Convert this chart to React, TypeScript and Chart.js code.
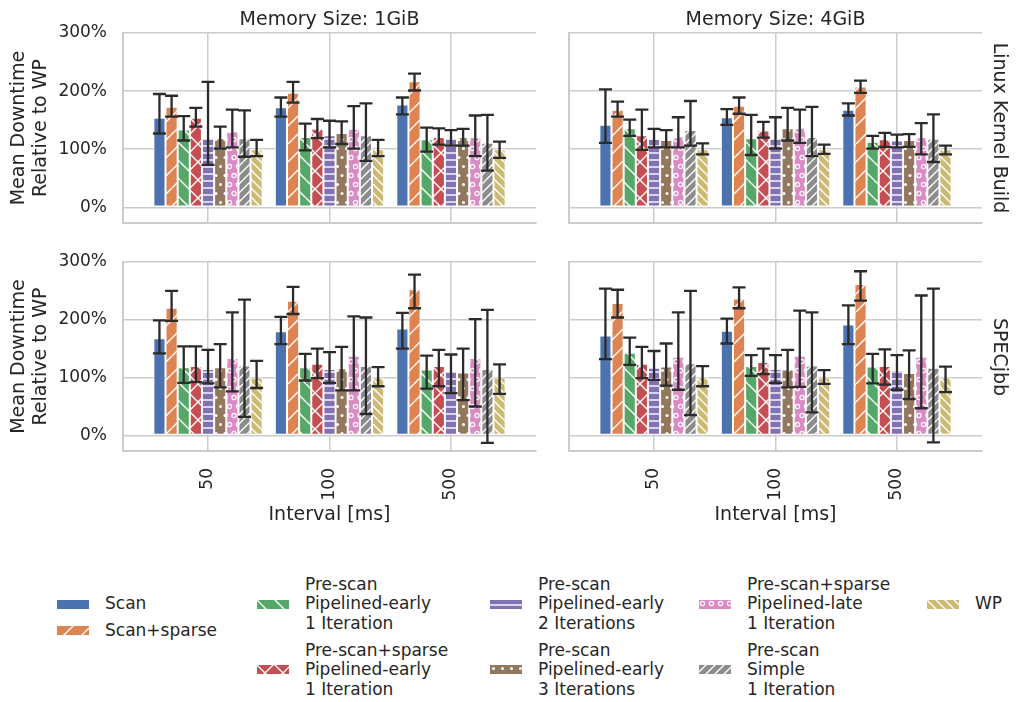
import React, { useEffect, useRef } from 'react';
import { Chart, registerables } from 'chart.js';

Chart.register(...registerables);
Chart.defaults.font.family = "'DejaVu Sans', sans-serif";

// ---------------- data ----------------
const categories = ['50', '100', '500'];
const yTicks = [0, 100, 200, 300];

const seriesLabels = [
  ['Scan'],
  ['Scan+sparse'],
  ['Pre-scan', 'Pipelined-early', '1 Iteration'],
  ['Pre-scan+sparse', 'Pipelined-early', '1 Iteration'],
  ['Pre-scan', 'Pipelined-early', '2 Iterations'],
  ['Pre-scan', 'Pipelined-early', '3 Iterations'],
  ['Pre-scan+sparse', 'Pipelined-late', '1 Iteration'],
  ['Pre-scan', 'Simple', '1 Iteration'],
  ['WP'],
];

// Linux Kernel Build, 1GiB  (rows = series, cols = interval)
const kernel1Mean = [
  [154, 172, 177], [173, 197, 217], [134, 121, 117], [154, 135, 121], [119, 124, 119],
  [119, 128, 121], [131, 135, 121], [119, 124, 111], [100, 100, 100],
];
const kernel1Low = [
  [127, 156, 160], [156, 180, 201], [115, 98, 96], [139, 119, 108], [73, 103, 106],
  [101, 109, 106], [103, 101, 88], [87, 80, 63], [88, 88, 85],
];
const kernel1High = [
  [195, 189, 189], [192, 216, 230], [157, 144, 137], [171, 152, 136], [216, 149, 133],
  [139, 148, 135], [168, 174, 158], [167, 179, 159], [116, 116, 113],
];

// Linux Kernel Build, 4GiB
const kernel4Mean = [
  [142, 155, 168], [168, 175, 208], [136, 119, 113], [124, 132, 117], [118, 119, 115],
  [116, 136, 116], [122, 137, 121], [133, 121, 118], [100, 100, 100],
];
const kernel4Low = [
  [111, 142, 158], [156, 161, 197], [123, 90, 101], [99, 120, 104], [103, 101, 103],
  [103, 115, 104], [103, 111, 91], [106, 88, 78], [91, 92, 91],
];
const kernel4High = [
  [203, 169, 179], [182, 189, 218], [151, 159, 123], [168, 147, 128], [135, 155, 125],
  [133, 171, 126], [155, 168, 145], [183, 173, 160], [110, 108, 106],
];

// SPECjbb, 1GiB
const spec1Mean = [
  [168, 180, 185], [221, 233, 253], [118, 118, 114], [120, 124, 120], [115, 115, 111],
  [118, 116, 109], [134, 138, 134], [121, 120, 115], [100, 100, 100],
];
const spec1Low = [
  [142, 158, 150], [198, 210, 220], [91, 95, 81], [92, 99, 85], [90, 91, 73],
  [83, 78, 61], [76, 78, 50], [32, 37, -13], [82, 85, 72],
];
const spec1High = [
  [199, 205, 212], [250, 257, 278], [154, 141, 138], [154, 150, 148], [148, 144, 140],
  [158, 153, 150], [213, 206, 201], [235, 204, 217], [129, 118, 123],
];

// SPECjbb, 4GiB
const spec4Mean = [
  [173, 181, 192], [229, 237, 262], [143, 120, 119], [124, 127, 120], [117, 115, 113],
  [119, 114, 108], [136, 138, 136], [125, 121, 117], [100, 100, 100],
];
const spec4Low = [
  [132, 159, 158], [204, 220, 233], [122, 103, 90], [99, 106, 88], [96, 91, 79],
  [86, 83, 63], [79, 84, 47], [35, 40, -12], [85, 89, 75],
];
const spec4High = [
  [254, 202, 225], [252, 256, 284], [169, 139, 141], [153, 150, 149], [146, 139, 139],
  [159, 148, 147], [213, 216, 242], [250, 213, 254], [120, 113, 119],
];

// ---------------- styles ----------------
const seriesColors = ['#4C72B0', '#DD8452', '#55A868', '#C44E52', '#8172B3', '#937860', '#DA8BC3', '#8C8C8C', '#CCB974'];
const seriesHatches = ['', '/', '\\', 'x', '-', '.', 'o', '//', '\\\\'];
const TEXT = '#262626';
const GRID = '#cccccc';

function makeTile(color: string, hatch: string): HTMLCanvasElement {
  const S = hatch === '-' ? 7 : 18;
  const c = document.createElement('canvas');
  c.width = S;
  c.height = S;
  const g = c.getContext('2d')!;
  g.fillStyle = color;
  g.fillRect(0, 0, S, S);
  g.strokeStyle = '#ffffff';
  g.fillStyle = '#ffffff';
  g.lineWidth = 1.4;
  const diag = (n: number, up: boolean) => {
    const step = S / n;
    g.beginPath();
    for (let k = -n; k <= 2 * n; k++) {
      const o = k * step;
      if (up) {
        g.moveTo(o - S, S);
        g.lineTo(o, 0);
      } else {
        g.moveTo(o - S, 0);
        g.lineTo(o, S);
      }
    }
    g.stroke();
  };
  const lattice = (fn: (x: number, y: number) => void) => {
    const pts: number[][] = [];
    for (const x of [4.5, 13.5]) pts.push([x, 4.5]);
    for (const x of [0, 9, 18]) pts.push([x, 13.5]);
    pts.forEach(([x, y]) => fn(x, y));
  };
  if (hatch === '/') diag(1, true);
  else if (hatch === '//') diag(2, true);
  else if (hatch === '\\') diag(1, false);
  else if (hatch === '\\\\') diag(2, false);
  else if (hatch === 'x') {
    diag(1, true);
    diag(1, false);
  } else if (hatch === '-') {
    g.beginPath();
    g.moveTo(0, S - 1);
    g.lineTo(S, S - 1);
    g.stroke();
  } else if (hatch === '.') {
    lattice((x, y) => {
      g.beginPath();
      g.arc(x, y, 1.5, 0, Math.PI * 2);
      g.fill();
    });
  } else if (hatch === 'o') {
    g.lineWidth = 1.2;
    lattice((x, y) => {
      g.beginPath();
      g.arc(x, y, 2.1, 0, Math.PI * 2);
      g.stroke();
    });
  }
  return c;
}

function makeFill(ctx: CanvasRenderingContext2D, i: number): any {
  if (!seriesHatches[i]) return seriesColors[i];
  return ctx.createPattern(makeTile(seriesColors[i], seriesHatches[i]), 'repeat');
}

const errorBarPlugin = {
  id: 'errorBars',
  afterDatasetsDraw(chart: any) {
    const ctx = chart.ctx;
    const ys = chart.scales.y;
    ctx.save();
    ctx.strokeStyle = '#2b2b2b';
    ctx.lineWidth = 2.3;
    chart.data.datasets.forEach((ds: any, i: number) => {
      const meta = chart.getDatasetMeta(i);
      meta.data.forEach((el: any, j: number) => {
        const x = el.x;
        const y1 = ys.getPixelForValue(ds.errLow[j]);
        const y2 = ys.getPixelForValue(ds.errHigh[j]);
        const cap = 6.5;
        ctx.beginPath();
        ctx.moveTo(x, y1);
        ctx.lineTo(x, y2);
        ctx.moveTo(x - cap, y1);
        ctx.lineTo(x + cap, y1);
        ctx.moveTo(x - cap, y2);
        ctx.lineTo(x + cap, y2);
        ctx.stroke();
      });
    });
    ctx.restore();
  },
};

type PanelProps = {
  mean: number[][];
  low: number[][];
  high: number[][];
  left: number;
  top: number;
  width: number;
  height: number;
  pad: { top: number; right: number; bottom: number; left: number };
  yWidth: number;
  xHeight: number;
  showY: boolean;
  showX: boolean;
};

function Panel(p: PanelProps) {
  const ref = useRef<HTMLCanvasElement>(null);
  useEffect(() => {
    const canvas = ref.current!;
    const ctx = canvas.getContext('2d')!;
    const datasets = seriesLabels.map((lab, i) => ({
      label: lab.join(' '),
      data: categories.map((_, j) => ({ x: j, y: p.mean[i][j] })),
      errLow: p.low[i],
      errHigh: p.high[i],
      backgroundColor: makeFill(ctx, i),
      borderColor: '#ffffff',
      borderWidth: 1,
      borderSkipped: false,
      categoryPercentage: 0.9,
      barPercentage: 1,
    }));
    const chart = new Chart(canvas, {
      type: 'bar',
      data: { datasets } as any,
      plugins: [errorBarPlugin],
      options: {
        animation: false,
        responsive: false,
        maintainAspectRatio: false,
        layout: { padding: p.pad },
        plugins: { legend: { display: false }, tooltip: { enabled: false }, title: { display: false } },
        scales: {
          x: {
            type: 'linear',
            min: -0.7,
            max: 2.7,
            offset: false,
            afterBuildTicks: (s: any) => {
              s.ticks = categories.map((_, j) => ({ value: j }));
            },
            afterFit: (s: any) => {
              s.height = p.xHeight;
              s.paddingLeft = 0;
              s.paddingRight = 0;
              s.paddingTop = 0;
              s.paddingBottom = 0;
            },
            grid: { color: GRID, lineWidth: 1.5, drawTicks: false, offset: false },
            border: { color: GRID, width: 2 },
            ticks: {
              display: p.showX,
              autoSkip: false,
              minRotation: 90,
              maxRotation: 90,
              padding: 17,
              color: TEXT,
              font: { size: 17 },
              callback: (v: any) => categories[Math.round(Number(v))] ?? '',
            },
            title: {
              display: p.showX,
              text: 'Interval [ms]',
              color: TEXT,
              font: { size: 19, lineHeight: 1.2 },
              padding: { top: 0, bottom: 14 },
            },
          },
          y: {
            type: 'linear',
            min: -27,
            max: 300,
            afterBuildTicks: (s: any) => {
              s.ticks = yTicks.map((v) => ({ value: v }));
            },
            afterFit: (s: any) => {
              s.width = p.yWidth;
              s.paddingLeft = 0;
              s.paddingRight = 0;
              s.paddingTop = 0;
              s.paddingBottom = 0;
            },
            grid: { color: GRID, lineWidth: 1.5, drawTicks: false },
            border: { color: GRID, width: 2 },
            ticks: {
              display: p.showY,
              padding: 16,
              color: TEXT,
              font: { size: 17 },
              callback: (v: any) => `${v}%`,
            },
            title: {
              display: p.showY,
              text: ['Mean Downtime', 'Relative to WP'],
              color: TEXT,
              font: { size: 19, lineHeight: 1.15 },
              padding: { top: 8, bottom: 0 },
            },
          },
        },
      } as any,
    });
    return () => chart.destroy();
  }, []);
  return (
    <canvas
      ref={ref}
      width={p.width}
      height={p.height}
      style={{ position: 'absolute', left: p.left, top: p.top, width: p.width, height: p.height }}
    />
  );
}

function Swatch({ index }: { index: number }) {
  const ref = useRef<HTMLCanvasElement>(null);
  useEffect(() => {
    const c = ref.current!;
    const g = c.getContext('2d')!;
    g.clearRect(0, 0, c.width, c.height);
    g.fillStyle = makeFill(g, index);
    g.fillRect(0, 0, c.width, c.height);
    g.strokeStyle = '#ffffff';
    g.lineWidth = 1;
    g.strokeRect(0.5, 0.5, c.width - 1, c.height - 1);
  }, []);
  return <canvas ref={ref} width={34} height={11} style={{ display: 'block' }} />;
}

const legendColX = [56, 256, 489, 698, 926];
const legendTextOffset = 49;
const legendFirstCenter = 604;
const legendLineH = 19.5;
const legendGap = 7.3;

function Legend() {
  const items: any[] = [];
  const colNext: Record<number, number> = {};
  seriesLabels.forEach((lines, k) => {
    const col = Math.floor(k / 2);
    const h = lines.length * legendLineH;
    let center: number;
    if (colNext[col] === undefined) center = legendFirstCenter;
    else center = colNext[col] + legendGap + h / 2;
    colNext[col] = center + h / 2;
    const x = legendColX[col];
    items.push(
      <div key={`s${k}`} style={{ position: 'absolute', left: x, top: center - 5.5 }}>
        <Swatch index={k} />
      </div>,
      <div
        key={`t${k}`}
        style={{
          position: 'absolute',
          left: x + legendTextOffset,
          top: center - h / 2,
          fontSize: 17,
          lineHeight: `${legendLineH}px`,
          whiteSpace: 'nowrap',
          color: TEXT,
        }}
      >
        {lines.map((l, li) => (
          <div key={li}>{l}</div>
        ))}
      </div>
    );
  });
  return <>{items}</>;
}

const facetTitles = ['Memory Size: 1GiB', 'Memory Size: 4GiB'];
const rowTitles = ['Linux Kernel Build', 'SPECjbb'];

export default function App() {
  const leftPad = { top: 33, right: 14, bottom: 17, left: 0 };
  const rightPad = { top: 33, right: 40, bottom: 17, left: 19 };
  const leftPadB = { top: 22, right: 14, bottom: 0, left: 0 };
  const rightPadB = { top: 22, right: 40, bottom: 0, left: 19 };
  return (
    <div
      style={{
        position: 'absolute',
        left: 0,
        top: 0,
        width: 1022,
        height: 702,
        background: '#ffffff',
        fontFamily: "'DejaVu Sans', sans-serif",
        color: TEXT,
        overflow: 'hidden',
      }}
    >
      <Panel mean={kernel1Mean} low={kernel1Low} high={kernel1High} left={0} top={0} width={550} height={240}
        pad={leftPad} yWidth={123} xHeight={0} showY={true} showX={false} />
      <Panel mean={kernel4Mean} low={kernel4Low} high={kernel4High} left={550} top={0} width={472} height={240}
        pad={rightPad} yWidth={0} xHeight={0} showY={false} showX={false} />
      <Panel mean={spec1Mean} low={spec1Low} high={spec1High} left={0} top={240} width={550} height={300}
        pad={leftPadB} yWidth={123} xHeight={89} showY={true} showX={true} />
      <Panel mean={spec4Mean} low={spec4Low} high={spec4High} left={550} top={240} width={472} height={300}
        pad={rightPadB} yWidth={0} xHeight={89} showY={false} showX={true} />

      {facetTitles.map((t, i) => (
        <div
          key={t}
          style={{
            position: 'absolute',
            left: i === 0 ? 329.5 : 775.5,
            top: 18 - 9.5,
            transform: 'translateX(-50%)',
            fontSize: 19,
            lineHeight: '19px',
            whiteSpace: 'nowrap',
          }}
        >
          {t}
        </div>
      ))}
      {rowTitles.map((t, i) => (
        <div
          key={t}
          style={{
            position: 'absolute',
            left: 1000,
            top: i === 0 ? 128 : 357,
            transform: 'translate(-50%, -50%)',
            writingMode: 'vertical-rl',
            fontSize: 19,
            lineHeight: '19px',
            whiteSpace: 'nowrap',
          }}
        >
          {t}
        </div>
      ))}
      <Legend />
    </div>
  );
}
